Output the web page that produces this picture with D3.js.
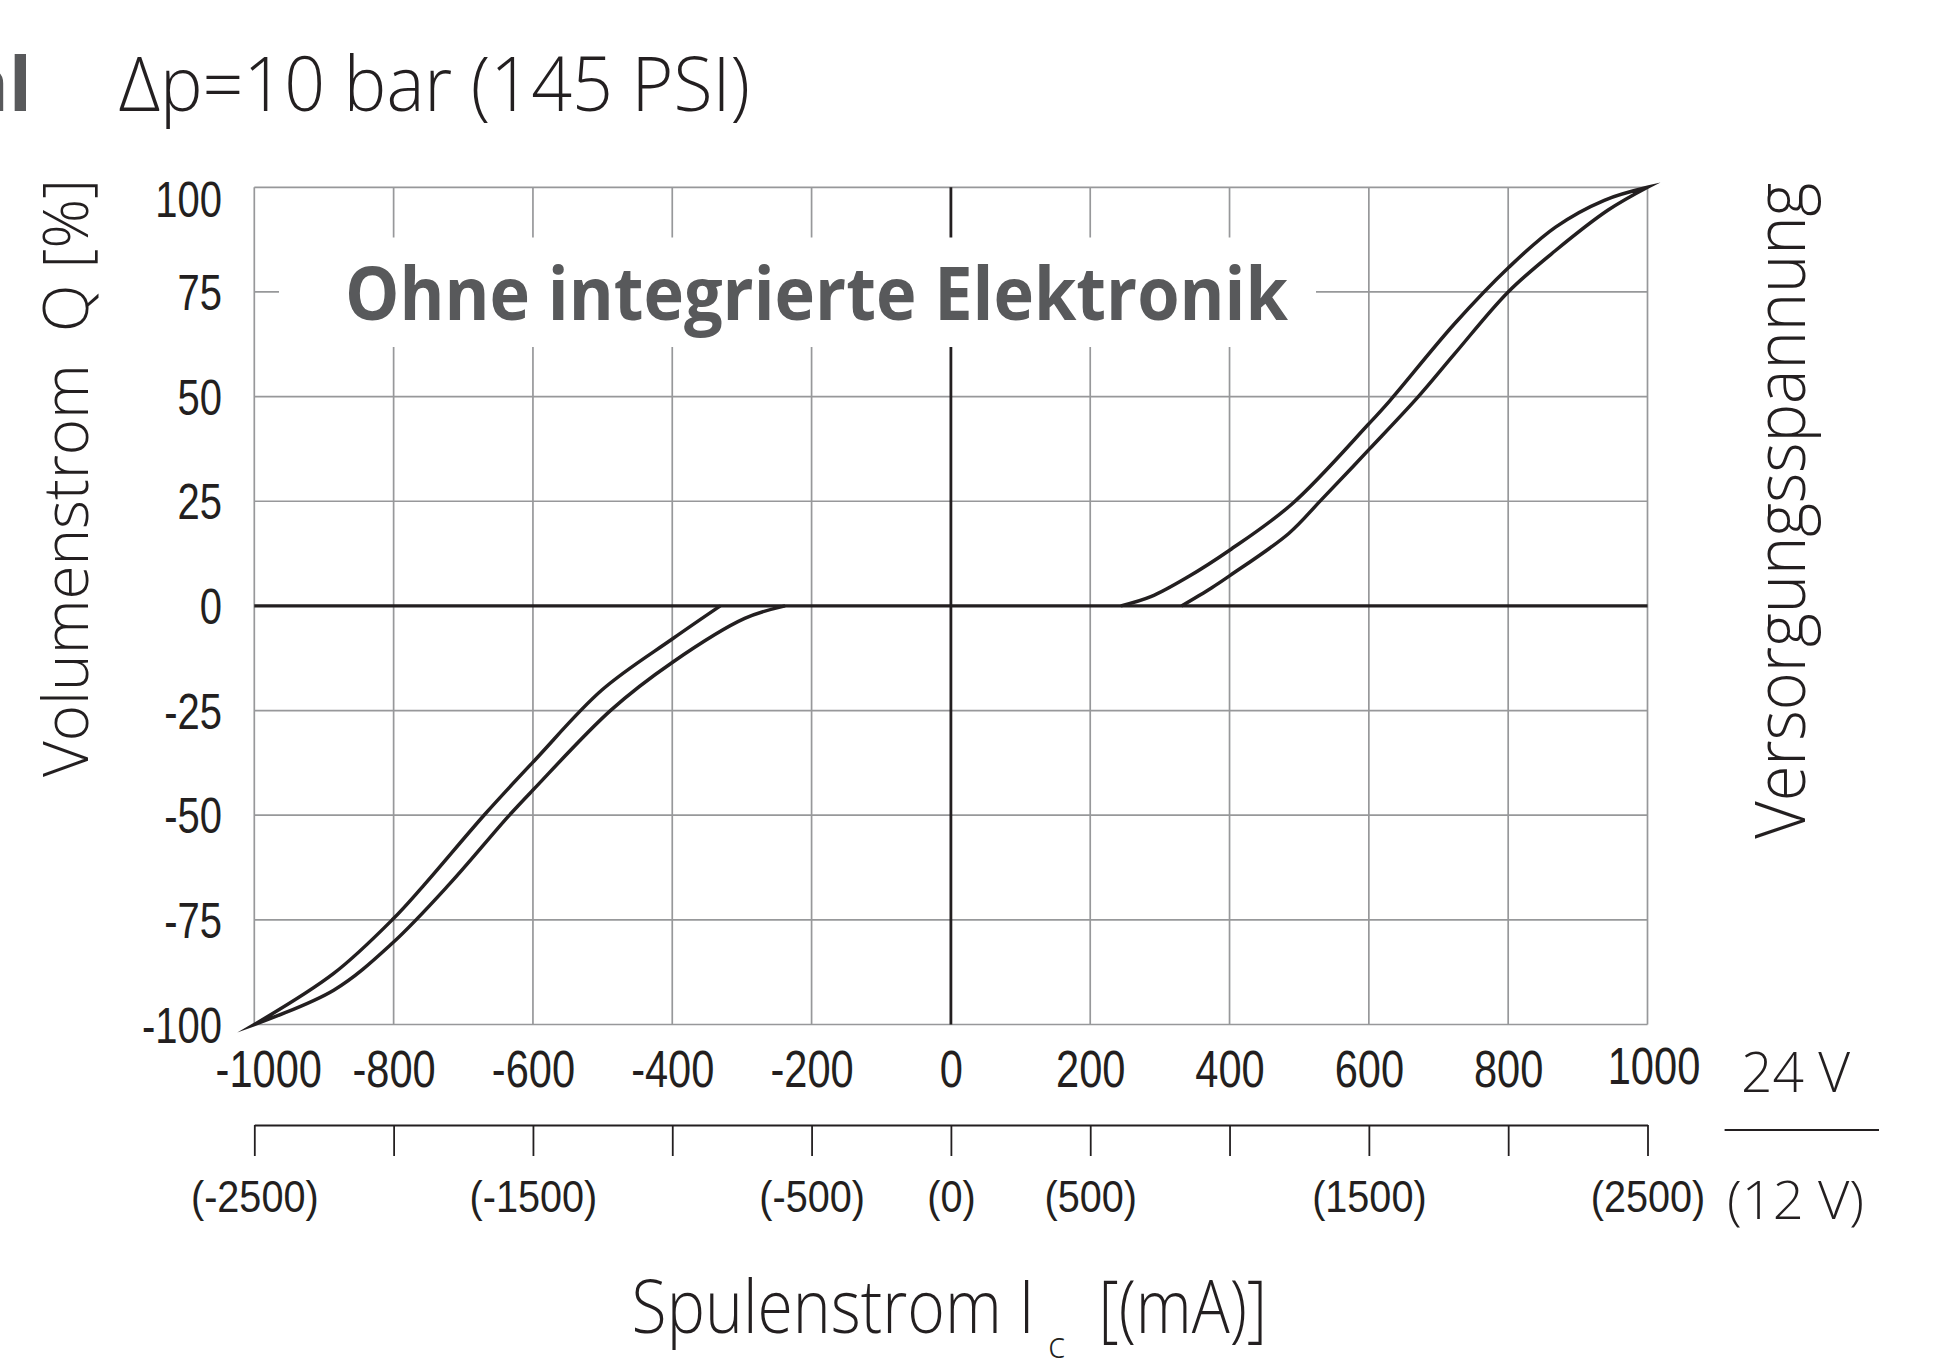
<!DOCTYPE html>
<html>
<head>
<meta charset="utf-8">
<script src="https://cdn.jsdelivr.net/npm/d3@7"></script>
<style>
  html, body { margin: 0; padding: 0; background: #ffffff; }
  svg { display: block; }
  text { white-space: pre; }
</style>
</head>
<body>
<svg id="chart" width="1934" height="1368"></svg>
<script>
// ---------------- data ----------------
const xTicks = [-1000, -800, -600, -400, -200, 0, 200, 400, 600, 800, 1000];
const xTickLabels = ["-1000", "-800", "-600", "-400", "-200", "0", "200", "400", "600", "800", "1000"];
const yTicks = [-100, -75, -50, -25, 0, 25, 50, 75, 100];
const yTickLabels = ["-100", "-75", "-50", "-25", "0", "25", "50", "75", "100"];

// secondary axis (12 V supply), coil current in mA
const supplyTicks = [-2500, -2000, -1500, -1000, -500, 0, 500, 1000, 1500, 2000, 2500];
const supplyLabelValues = [-2500, -1500, -500, 0, 500, 1500, 2500];
const supplyLabelTexts = ["(-2500)", "(-1500)", "(-500)", "(0)", "(500)", "(1500)", "(2500)"];

// hysteresis curves [coil current mA, flow %]
const rightUpper = [[244, 0], [287, 2.2], [340, 6.9], [400, 13.3], [490, 24.4], [600, 43.5], [630, 49],
                    [723, 67.4], [801, 80.9], [868, 90.5], [938, 96.9], [1000, 100]];
const rightLower = [[331, 0], [374, 4.3], [401, 7.3], [485, 17.3], [531, 25.2], [601, 37.5], [671, 50],
                    [723, 60.2], [800, 75], [868, 84.9], [943, 94.5], [1000, 100]];
const leftOuter = [[-331, 0], [-399, -7.8], [-501, -20.1], [-597, -36.8], [-668, -49.6],
                   [-758, -67], [-802, -75], [-886, -87.8], [-1000, -100]];
const leftInner = [[-238, 0], [-296, -3.0], [-399, -13.4], [-488, -24.9], [-600, -44], [-636, -50.4],
                   [-719, -66.3], [-802, -80.6], [-886, -91.8], [-1000, -100]];

// ---------------- layout ----------------
const svg = d3.select("#chart");
const ink = "#231f20";
const gridCol = "#97989a";
const grayText = "#58595b";
const lightFont = "'Open Sans', 'Noto Sans', sans-serif";
const tickFont = "'Liberation Sans', Arial, sans-serif";

const x = d3.scaleLinear().domain([-1000, 1000]).range([254.3, 1647.5]);
const y = d3.scaleLinear().domain([-100, 100]).range([1024.5, 187.3]);
const x2 = d3.scaleLinear().domain([-2500, 2500]).range([254.3, 1647.5]);

svg.append("rect").attr("width", 1934).attr("height", 1368).attr("fill", "#fff");

function fit(sel, w) { return sel.attr("textLength", w).attr("lengthAdjust", "spacingAndGlyphs"); }
function condense(sel, k) {
  sel.each(function () {
    const w = this.getComputedTextLength();
    if (w > 0) d3.select(this).attr("textLength", w * k).attr("lengthAdjust", "spacingAndGlyphs");
  });
}

// grid
const grid = svg.append("g");
grid.selectAll("line.v").data(xTicks).join("line")
  .attr("x1", d => x(d)).attr("x2", d => x(d))
  .attr("y1", y(100)).attr("y2", y(-100))
  .attr("stroke", gridCol).attr("stroke-width", 1.7);
grid.selectAll("line.h").data(yTicks).join("line")
  .attr("x1", x(-1000)).attr("x2", x(1000))
  .attr("y1", d => y(d)).attr("y2", d => y(d))
  .attr("stroke", gridCol).attr("stroke-width", 1.7);

// vertical zero axis
svg.append("line").attr("x1", x(0)).attr("x2", x(0)).attr("y1", y(100)).attr("y2", y(-100))
  .attr("stroke", ink).attr("stroke-width", 2.8);

// white box behind inner heading
svg.append("rect").attr("x", 279).attr("y", 237.5).attr("width", 1316 - 279).attr("height", 347 - 237.5)
  .attr("fill", "#fff");
fit(svg.append("text").attr("x", 345).attr("y", 320)
  .attr("font-family", lightFont).attr("font-weight", 700).attr("font-size", 74)
  .attr("fill", grayText).text("Ohne integrierte Elektronik"), 943);

// horizontal zero line
svg.append("line").attr("x1", x(-1000)).attr("x2", x(1000)).attr("y1", y(0)).attr("y2", y(0))
  .attr("stroke", ink).attr("stroke-width", 3.3);

// curves
const line = d3.line().x(d => x(d[0])).y(d => y(d[1])).curve(d3.curveCatmullRom.alpha(0.5));
function lobe(a, b) {
  const d1 = line(a);
  const d2 = line(b).replace(/^M[^A-Za-z]*/, "");
  return d1 + d2;
}
svg.append("path").attr("d", lobe(rightUpper, rightLower.slice().reverse()))
  .attr("fill", "none").attr("stroke", ink).attr("stroke-width", 3.5)
  .attr("stroke-linejoin", "miter").attr("stroke-miterlimit", 30);
svg.append("path").attr("d", lobe(leftOuter, leftInner.slice().reverse()))
  .attr("fill", "none").attr("stroke", ink).attr("stroke-width", 3.5)
  .attr("stroke-linejoin", "miter").attr("stroke-miterlimit", 30);

// y axis labels
const yAxis = svg.append("g").attr("transform", `translate(${x(-1000)},0)`)
  .call(d3.axisLeft(y).tickValues(yTicks).tickFormat((d, i) => yTickLabels[i]).tickSize(0));
yAxis.select(".domain").remove();
yAxis.selectAll("text")
  .attr("x", -32.3).attr("dy", "0.35em")
  .attr("font-family", tickFont).attr("font-size", 50).attr("fill", ink)
  .attr("transform", d => d === 100 ? "translate(0,12)" : null)
  .call(condense, 0.8);

// x axis labels
const xAxis = svg.append("g").attr("transform", `translate(0,${y(-100)})`)
  .call(d3.axisBottom(x).tickValues(xTicks).tickFormat((d, i) => xTickLabels[i]).tickSize(0));
xAxis.select(".domain").remove();
xAxis.selectAll("text")
  .attr("y", 62).attr("dy", null)
  .attr("font-family", tickFont).attr("font-size", 52).attr("fill", ink)
  .attr("transform", d => d === -1000 ? "translate(14,0)" : (d === 1000 ? "translate(6,-3)" : null))
  .call(condense, 0.8);

// secondary axis (12 V)
const sAxis = svg.append("g").attr("transform", "translate(0,1125)")
  .call(d3.axisBottom(x2).tickValues(supplyTicks).tickSizeInner(31).tickSizeOuter(0)
    .tickFormat(d => { const i = supplyLabelValues.indexOf(d); return i >= 0 ? supplyLabelTexts[i] : ""; }));
sAxis.select(".domain").attr("stroke", ink).attr("stroke-width", 2);
sAxis.selectAll(".tick line").attr("stroke", ink).attr("stroke-width", 1.8);
sAxis.selectAll("text")
  .attr("y", 87).attr("dy", null)
  .attr("font-family", tickFont).attr("font-size", 44).attr("fill", ink)
  .call(condense, 0.9);

// headline
svg.append("text").attr("x", 32).attr("y", 111).attr("text-anchor", "end")
  .attr("font-family", lightFont).attr("font-weight", 700).attr("font-size", 76)
  .attr("fill", grayText).text("al");
fit(svg.append("text").attr("x", 119).attr("y", 111)
  .attr("font-family", lightFont).attr("font-weight", 300).attr("font-size", 76)
  .attr("fill", ink).text("Δp=10 bar (145 PSI)"), 631);

// axis titles
fit(svg.append("text").attr("transform", "translate(88,777) rotate(-90)")
  .attr("font-family", lightFont).attr("font-weight", 300).attr("font-size", 63)
  .attr("fill", ink).text("Volumenstrom  Q [%]"), 598);
fit(svg.append("text").attr("transform", "translate(1805,838.7) rotate(-90)")
  .attr("font-family", lightFont).attr("font-weight", 300).attr("font-size", 70)
  .attr("fill", ink).text("Versorgungsspannung"), 656);

const xt = svg.append("text")
  .attr("font-family", lightFont).attr("font-weight", 300).attr("font-size", 73).attr("fill", ink);
fit(xt.append("tspan").attr("x", 631.6).attr("y", 1333).text("Spulenstrom I"), 403);
xt.append("tspan").attr("x", 1048).attr("y", 1358).attr("font-size", 36).text("c");
fit(xt.append("tspan").attr("x", 1098.5).attr("y", 1333).text("[(mA)]"), 168.5);

// supply voltage legend
fit(svg.append("text").attr("x", 1741).attr("y", 1092)
  .attr("font-family", lightFont).attr("font-weight", 300).attr("font-size", 55)
  .attr("fill", ink).text("24 V"), 109);
svg.append("line").attr("x1", 1724.6).attr("x2", 1879).attr("y1", 1130).attr("y2", 1130)
  .attr("stroke", ink).attr("stroke-width", 2);
fit(svg.append("text").attr("x", 1727).attr("y", 1219)
  .attr("font-family", lightFont).attr("font-weight", 300).attr("font-size", 54)
  .attr("fill", ink).text("(12 V)"), 137);
</script>
</body>
</html>
